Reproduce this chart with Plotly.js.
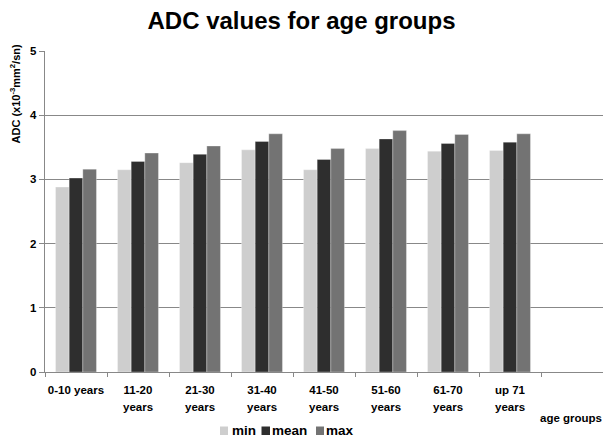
<!DOCTYPE html>
<html>
<head>
<meta charset="utf-8">
<script src="https://cdn.plot.ly/plotly-3.0.1.min.js"></script>
<style>html,body{margin:0;padding:0;background:#fff;}</style>
</head>
<body>
<div id="chart" style="width:603px;height:439px;"></div>
<script>
var categories = ["0-10", "11-20", "21-30", "31-40", "41-50", "51-60", "61-70", "up 71", "empty"];
var tickLine1  = ["0-10 years", "11-20", "21-30", "31-40", "41-50", "51-60", "61-70", "up 71", ""];
var tickLine2  = ["", "years", "years", "years", "years", "years", "years", "years", ""];
var minValues  = [2.88, 3.15, 3.26, 3.46, 3.15, 3.48, 3.44, 3.45, null];
var meanValues = [3.02, 3.28, 3.39, 3.59, 3.31, 3.63, 3.56, 3.58, null];
var maxValues  = [3.16, 3.41, 3.52, 3.71, 3.48, 3.76, 3.70, 3.71, null];
var seriesNames = ["min", "mean", "max"];
var yTicks = [0, 1, 2, 3, 4, 5];

var fontFam = "Liberation Sans, Arial, sans-serif";
var colors = ["#cecece", "#2e2e2e", "#737373"];
var series = [minValues, meanValues, maxValues];
var traces = series.map(function (vals, i) {
  return {
    type: "bar",
    name: seriesNames[i],
    x: categories,
    y: vals,
    marker: {color: colors[i], line: {color: "rgba(255,255,255,0.6)", width: 0.5}},
    hoverinfo: "skip",
    showlegend: false
  };
});

// custom compact legend (squares + labels), paper coordinates
var legendSq = [[0.3136, 0.3280], [0.3880, 0.4032], [0.4857, 0.5000]];
var legendTx = [0.3351, 0.4077, 0.5036];
var shapes = seriesNames.map(function (n, i) {
  return {
    type: "rect", xref: "paper", yref: "paper",
    x0: legendSq[i][0], x1: legendSq[i][1], y0: -0.1963, y1: -0.1698,
    fillcolor: colors[i], line: {width: 0}
  };
});
var legendAnn = seriesNames.map(function (n, i) {
  return {
    text: "<b>" + n + "</b>",
    xref: "paper", yref: "paper",
    x: legendTx[i], y: -0.1822,
    xanchor: "left", yanchor: "middle", xshift: -2,
    showarrow: false,
    font: {family: fontFam, size: 13.5, color: "#000"}
  };
});
// second line of the category tick labels, placed on the category axis
var tickLine2Ann = [];
tickLine2.forEach(function (t, i) {
  if (!t) return;
  tickLine2Ann.push({
    text: "<b>" + t + "</b>",
    xref: "x", yref: "paper",
    x: categories[i], y: -0.1075,
    xanchor: "center", yanchor: "middle",
    showarrow: false,
    font: {family: fontFam, size: 11.5, color: "#000"}
  });
});

var layout = {
  width: 603,
  height: 439,
  margin: {l: 45, r: 0, t: 51, b: 67, pad: 0},
  paper_bgcolor: "#ffffff",
  plot_bgcolor: "#ffffff",
  barmode: "group",
  bargap: 0.34,
  bargroupgap: 0,
  font: {family: fontFam, color: "#000"},
  showlegend: false,
  title: {
    text: "<b>ADC values for age groups</b>",
    font: {family: fontFam, size: 24, color: "#000"},
    xref: "container", x: 0.5, xanchor: "center",
    yref: "container", y: 0.952, yanchor: "middle"
  },
  xaxis: {
    type: "category",
    categoryorder: "array",
    categoryarray: categories,
    range: [-0.5, 8.5],
    tickson: "boundaries",
    tickvals: categories,
    ticktext: tickLine1,
    ticks: "outside",
    ticklen: 4,
    tickcolor: "#888",
    tickwidth: 1,
    ticklabelstandoff: 7,
    showline: true,
    linecolor: "#888",
    linewidth: 1.3,
    showgrid: false,
    tickfont: {family: fontFam, size: 11.5, color: "#000", weight: "bold"},
    tickangle: 0,
    fixedrange: true
  },
  yaxis: {
    range: [0, 5],
    tickvals: yTicks,
    ticktext: yTicks.map(String),
    ticks: "outside",
    ticklen: 5,
    tickcolor: "#888",
    showline: true,
    linecolor: "#888",
    linewidth: 1.3,
    showgrid: true,
    gridcolor: "#888",
    gridwidth: 1.3,
    zeroline: false,
    tickfont: {family: fontFam, size: 11.5, color: "#000", weight: "bold"},
    fixedrange: true
  },
  shapes: shapes,
  annotations: [
    {
      text: "<b>ADC (x10<sup>-3</sup>mm<sup>2</sup>/sn)</b>",
      xref: "paper", yref: "paper",
      x: -0.0538, y: 0.8676,
      xanchor: "center", yanchor: "middle",
      textangle: -90,
      showarrow: false,
      font: {family: fontFam, size: 11, color: "#000"}
    },
    {
      text: "<b>age groups</b>",
      xref: "paper", yref: "paper",
      x: 0.942, y: -0.1433,
      xanchor: "center", yanchor: "middle",
      showarrow: false,
      font: {family: fontFam, size: 11.5, color: "#000"}
    }
  ].concat(tickLine2Ann, legendAnn)
};

Plotly.newPlot("chart", traces, layout, {displayModeBar: false, staticPlot: true});
</script>
</body>
</html>
